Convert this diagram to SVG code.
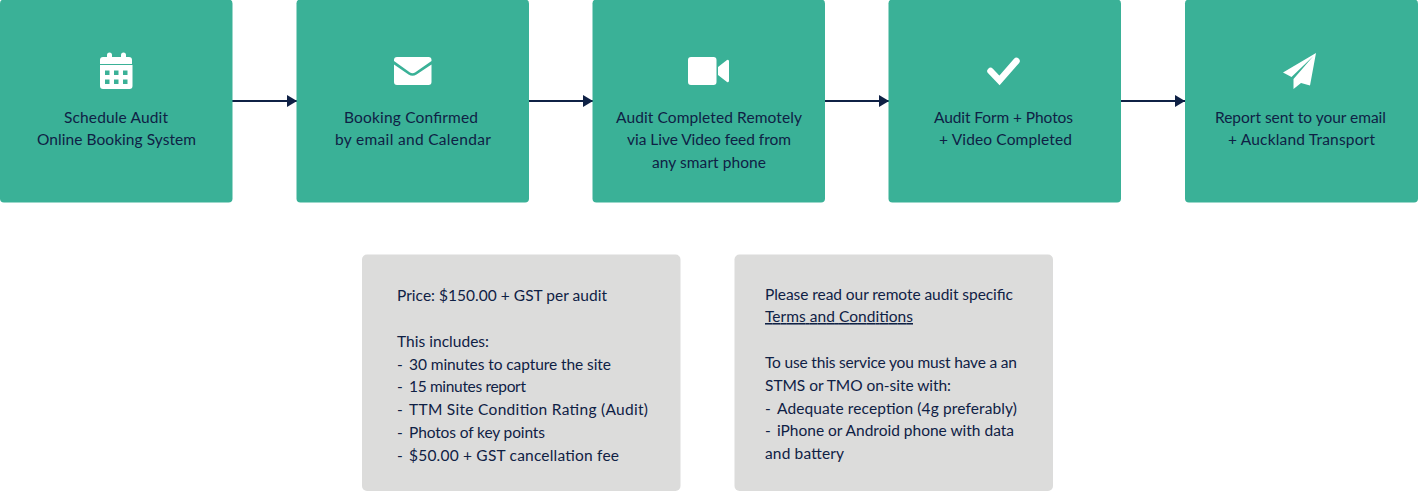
<svg xmlns="http://www.w3.org/2000/svg" width="1418" height="491" viewBox="0 0 1418 491">
<style>
.box{fill:#3ab197}
.note{fill:#dcdcdb}
.ic{fill:#fff}
text{font-family:"Lato","Liberation Sans",sans-serif;font-size:15.5px;fill:#0f2145}
.line{stroke:#0f2145;stroke-width:2;fill:none;marker-end:url(#arr)}
</style>
<defs><marker id="arr" markerUnits="userSpaceOnUse" markerWidth="10" markerHeight="12" refX="10" refY="6" orient="auto"><path d="M0 0L10 6L0 12Z" fill="#0f2145"/></marker></defs>
<g id="connectors">
<path class="line" d="M232 101H297"/>
<path class="line" d="M529 101H593"/>
<path class="line" d="M825 101H889"/>
<path class="line" d="M1121 101H1185"/>
</g>
<g id="node1"><rect class="box" x="0" y="-0.500" width="232.500" height="203" rx="4"/>
<path class="ic" fill-rule="evenodd" d="M107 55a2.500 2.500 0 0 1 5 0v2h9v-2a2.500 2.500 0 0 1 5 0v2h3a3 3 0 0 1 3 3v4H100v-4a3 3 0 0 1 3-3h4zM100 65h32.500V86a3 3 0 0 1-3 3H103a3 3 0 0 1-3-3zM105 70.500v4.500h4.500v-4.500zM114 70.500v4.500h4.500v-4.500zM123 70.500v4.500h4.500v-4.500zM105 79.500v4.500h4.500v-4.500zM114 79.500v4.500h4.500v-4.500zM123 79.500v4.500h4.500v-4.500z"/>
<text x="64" y="123" textLength="104">Schedule Audit</text><text x="37" y="145" textLength="159">Online Booking System</text></g>
<g id="node2"><rect class="box" x="296.500" y="-0.500" width="232.500" height="203" rx="4"/>
<path class="ic" d="M397 57h31.500a3 3 0 0 1 3 3v1L415 72.500q-2.500 1.500-5 0L394 61V60a3 3 0 0 1 3-3zM394 64.500L408.500 74.500q4 2.500 8 0L431.500 64.500V82a3 3 0 0 1-3 3H397a3 3 0 0 1-3-3z"/>
<text x="344" y="123" textLength="134">Booking Confirmed</text><text x="335" y="145" textLength="156">by email and Calendar</text></g>
<g id="node3"><rect class="box" x="592.500" y="-0.500" width="232.500" height="203" rx="4"/>
<path class="ic" d="M691 57h22.500a3 3 0 0 1 3 3v22a3 3 0 0 1-3 3H691a3 3 0 0 1-3-3V60a3 3 0 0 1 3-3zM718 67l9-7q2-1 2 1.500v19q0 2.500-2 1.500l-9-7z"/>
<text x="616" y="123" textLength="186">Audit Completed Remotely</text><text x="627" y="145" textLength="164">via Live Video feed from</text><text x="652" y="168" textLength="114">any smart phone</text></g>
<g id="node4"><rect class="box" x="888.500" y="-0.500" width="232.500" height="203" rx="4"/>
<path d="M990.500 71l9 9.500L1016.500 61" fill="none" stroke="#fff" stroke-width="6.500" stroke-linecap="round" stroke-linejoin="miter"/>
<text x="934" y="123" textLength="139">Audit Form + Photos</text><text x="939" y="145" textLength="133">+ Video Completed</text></g>
<g id="node5"><rect class="box" x="1185" y="-0.500" width="233" height="203" rx="4"/>
<path class="ic" d="M1316 53L1283 72.500l8.500 4.500L1315 54.500zM1316 53L1293.500 79v10l7.500-6 9 2.500z"/>
<text x="1215" y="123" textLength="171">Report sent to your email</text><text x="1228" y="145" textLength="147">+ Auckland Transport</text></g>
<g id="note1"><rect class="note" x="362" y="254.500" width="318.500" height="236.500" rx="5"/>
<text x="397" y="301" textLength="210">Price: $150.00 + GST per audit</text>
<text x="397" y="347" textLength="92">This includes:</text>
<text x="397" y="369.500">-</text><text x="409" y="369.500" textLength="202">30 minutes to capture the site</text>
<text x="397" y="392">-</text><text x="409" y="392" textLength="117">15 minutes report</text>
<text x="397" y="415">-</text><text x="409" y="415" textLength="239">TTM Site Condition Rating (Audit)</text>
<text x="397" y="438">-</text><text x="409" y="438" textLength="136">Photos of key points</text>
<text x="397" y="461">-</text><text x="409" y="461" textLength="210">$50.00 + GST cancellation fee</text></g>
<g id="note2"><rect class="note" x="734.500" y="254.500" width="318.500" height="236.500" rx="5"/>
<text x="765" y="300" textLength="248">Please read our remote audit specific</text>
<text x="765" y="322" textLength="148" text-decoration="underline">Terms and Conditions</text>
<text x="765" y="368" textLength="252">To use this service you must have a an</text>
<text x="765" y="391" textLength="186">STMS or TMO on-site with:</text>
<text x="765" y="414">-</text><text x="777" y="414" textLength="240">Adequate reception (4g preferably)</text>
<text x="765" y="436">-</text><text x="777" y="436" textLength="237">iPhone or Android phone with data</text>
<text x="765" y="459" textLength="79">and battery</text></g>
</svg>
